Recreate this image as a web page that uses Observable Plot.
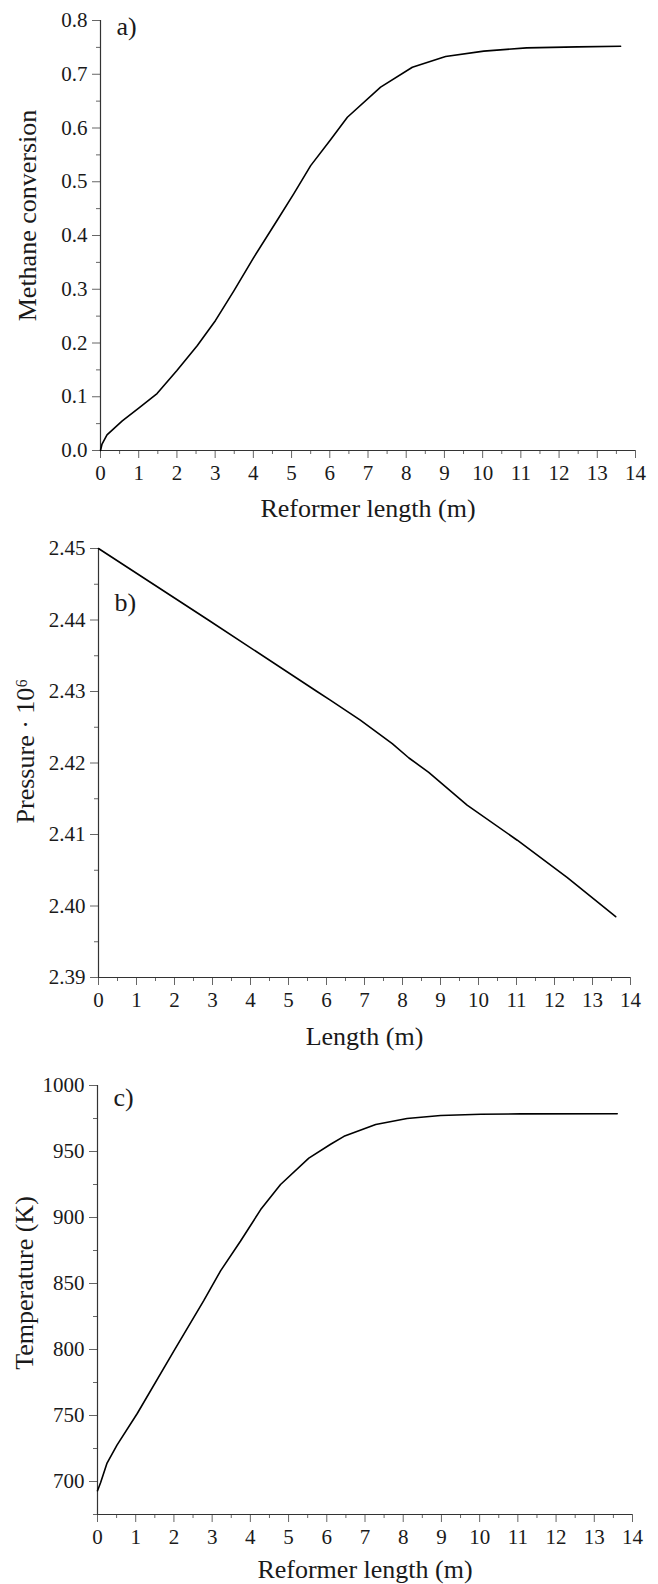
<!DOCTYPE html>
<html><head><meta charset="utf-8">
<script src="https://cdn.jsdelivr.net/npm/d3@7"></script>
<script src="https://cdn.jsdelivr.net/npm/@observablehq/plot@0.6"></script>
<style>
html,body{margin:0;padding:0;background:#fff;}
#chart svg{display:block;}
</style></head><body><div id="chart"></div>
<script>
// Panel a) methane conversion vs reformer length
const lenA  = [0, 0.04, 0.17, 0.57, 1.0, 1.48, 2.0, 2.53, 3.01, 3.49, 4.0, 4.62, 5.06, 5.5, 6.02, 6.46, 7.33, 8.16, 9.03, 10.03, 11.15, 12.48, 13.61];
const convA = [0, 0.012, 0.029, 0.055, 0.079, 0.106, 0.149, 0.195, 0.242, 0.297, 0.358, 0.428, 0.478, 0.530, 0.578, 0.620, 0.676, 0.713, 0.733, 0.743, 0.749, 0.751, 0.752];
// Panel b) pressure vs length
const lenB  = [0, 2.89, 5.75, 6.1, 6.89, 7.73, 8.17, 8.69, 9.70, 11.02, 12.33, 13.61];
const presB = [2.45, 2.44, 2.43, 2.4288, 2.426, 2.4227, 2.4207, 2.4187, 2.4141, 2.4092, 2.4040, 2.3985];
// Panel c) temperature vs reformer length
const lenC  = [0, 0.08, 0.25, 0.51, 1.04, 2.0, 2.78, 3.22, 3.74, 4.27, 4.79, 5.53, 6.1, 6.45, 7.28, 8.1, 8.98, 10.03, 11.07, 13.6];
const tempC = [693, 699, 714, 727.6, 751.5, 799, 837, 859.6, 882, 906, 925, 945, 955.5, 961.5, 970.5, 975, 977.3, 978.2, 978.5, 978.6];

// Tick labels
const xMajor = d3.range(0, 15, 1);
const xMinor = d3.range(0.5, 14, 1);
const yMajorA = [0, 0.1, 0.2, 0.3, 0.4, 0.5, 0.6, 0.7, 0.8];
const yMinorA = [0.05, 0.15, 0.25, 0.35, 0.45, 0.55, 0.65, 0.75];
const yMajorB = [2.39, 2.40, 2.41, 2.42, 2.43, 2.44, 2.45];
const yMinorB = [2.395, 2.405, 2.415, 2.425, 2.435, 2.445];
const yMajorC = [700, 750, 800, 850, 900, 950, 1000];
const yMinorC = [675, 725, 775, 825, 875, 925, 975];

const FONT = "'Liberation Serif', 'Times New Roman', serif";

function panel(o) {
  const data = o.x.map((v, i) => ({x: v, y: o.y[i]}));
  return Plot.plot({
    width: 658, height: o.height,
    marginTop: o.mt, marginBottom: o.mb, marginLeft: o.ml, marginRight: o.mr,
    style: {fontFamily: FONT, fontSize: "21px", color: "#1a1a1a", background: "#fff", overflow: "visible"},
    x: {domain: [0, 14]},
    y: {domain: o.yDomain},
    marks: [
      Plot.axisX({ticks: xMajor, tickSize: 8, tickPadding: 7, tickFormat: d3.format("d"), label: null, stroke: "#666", fill: "#1a1a1a", fontSize: 21}),
      Plot.axisX({ticks: xMinor, tickSize: 4, tickFormat: () => "", label: null, stroke: "#666"}),
      Plot.axisY({ticks: o.yMajor, tickSize: 8, tickPadding: 5, tickFormat: o.yFormat, label: null, stroke: "#666", fill: "#1a1a1a", fontSize: 21}),
      Plot.axisY({ticks: o.yMinor, tickSize: 4, tickFormat: () => "", label: null, stroke: "#666"}),
      Plot.ruleX([0], {stroke: "#333", strokeWidth: 1.2}),
      Plot.ruleY([o.yDomain[0]], {stroke: "#333", strokeWidth: 1.2}),
      Plot.line(data, {x: "x", y: "y", stroke: "#000", strokeWidth: 1.6}),
      Plot.text([o.tag], {frameAnchor: "top-left", dx: 16, dy: o.tagDy, lineAnchor: "top", fontSize: 26, fill: "#1a1a1a"}),
      Plot.text([o.xLabel], {frameAnchor: "bottom", dy: o.xLabelDy, lineAnchor: "middle", textAnchor: "middle", fontSize: 26, fill: "#1a1a1a"}),
      Plot.text([o.yLabel], {frameAnchor: "left", rotate: -90, dx: -73, dy: o.yLabelDy, lineAnchor: "middle", textAnchor: "middle", fontSize: 26, fill: "#1a1a1a"})
    ]
  });
}

const root = document.getElementById("chart");
root.append(panel({
  x: lenA, y: convA, height: 525, mt: 20, mb: 75, ml: 100, mr: 23,
  yDomain: [0, 0.8], yMajor: yMajorA, yMinor: yMinorA, yFormat: d3.format(".1f"),
  tag: "a)", tagDy: -4, xLabel: "Reformer length (m)", xLabelDy: 58, yLabel: "Methane conversion", yLabelDy: -20
}));
root.append(panel({
  x: lenB, y: presB, height: 525, mt: 23, mb: 73, ml: 98, mr: 28,
  yDomain: [2.39, 2.45], yMajor: yMajorB, yMinor: yMinorB, yFormat: d3.format(".2f"),
  tag: "b)", tagDy: 44, xLabel: "Length (m)", xLabelDy: 59, yLabel: "Pressure · 10⁶", yLabelDy: -12
}));
root.append(panel({
  x: lenC, y: tempC, height: 534, mt: 35, mb: 70, ml: 97, mr: 26,
  yDomain: [675, 1000], yMajor: yMajorC, yMinor: yMinorC, yFormat: d3.format("d"),
  tag: "c)", tagDy: 2, xLabel: "Reformer length (m)", xLabelDy: 55, yLabel: "Temperature (K)", yLabelDy: -17
}));
</script></body></html>
